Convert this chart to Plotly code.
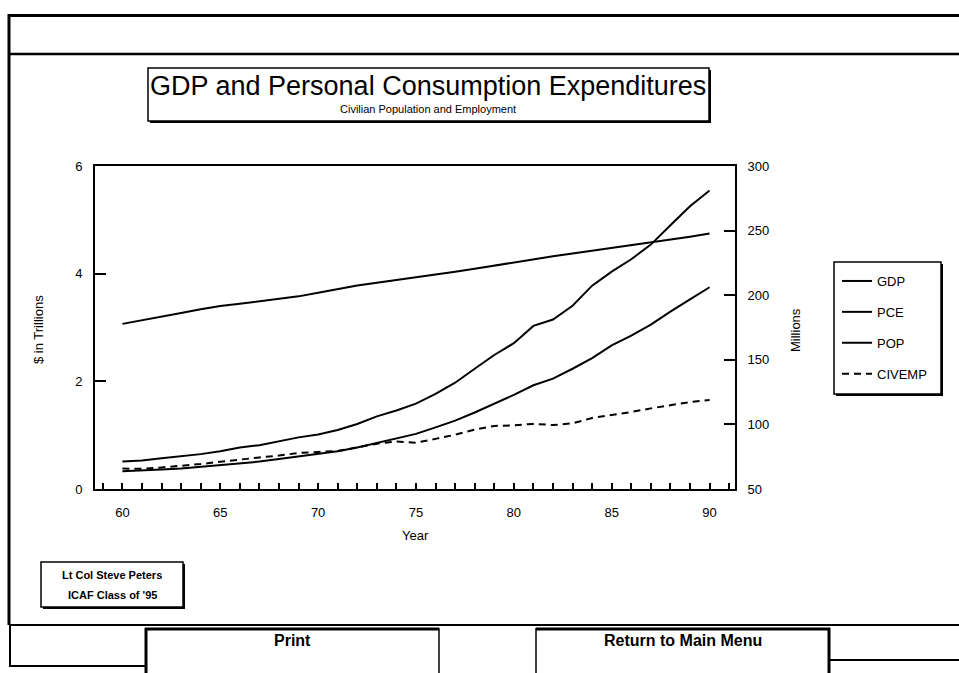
import plotly.graph_objects as go

# ---------------- data ----------------
years = list(range(60, 91))
gdp = [0.513, 0.531, 0.571, 0.603, 0.648, 0.702, 0.769, 0.814, 0.889, 0.959,
       1.011, 1.097, 1.207, 1.349, 1.459, 1.586, 1.768, 1.974, 2.233, 2.489,
       2.708, 3.030, 3.149, 3.405, 3.777, 4.038, 4.268, 4.540, 4.900, 5.251, 5.546]
pce = [0.331, 0.341, 0.363, 0.382, 0.411, 0.444, 0.481, 0.509, 0.558, 0.605,
       0.648, 0.702, 0.770, 0.852, 0.933, 1.024, 1.144, 1.271, 1.421, 1.583,
       1.748, 1.927, 2.051, 2.234, 2.430, 2.667, 2.850, 3.052, 3.296, 3.523, 3.748]
pop = [177.8, 180.8, 183.5, 186.2, 189.1, 191.6, 193.4, 195.3, 197.3, 199.1,
       201.9, 204.9, 207.5, 209.6, 211.6, 213.8, 215.9, 218.1, 220.5, 223.0,
       225.6, 227.9, 230.1, 232.2, 234.3, 236.5, 238.7, 240.8, 243.0, 245.3, 247.8]
civemp = [65.8, 65.7, 66.7, 67.8, 69.3, 71.1, 72.9, 74.4, 75.9, 77.9,
          78.7, 79.4, 82.2, 85.1, 86.8, 85.8, 88.8, 92.0, 96.0, 98.8,
          99.3, 100.4, 99.5, 100.8, 105.0, 107.2, 109.6, 112.4, 115.0, 117.3, 118.8]

x_ticks = [60, 65, 70, 75, 80, 85, 90]
y_left_ticks = [0, 2, 4, 6]
y_right_ticks = [50, 100, 150, 200, 250, 300]

title_text = "GDP and Personal Consumption Expenditures"
subtitle_text = "Civilian Population and Employment"
credit_lines = ["Lt Col Steve Peters", "ICAF Class of '95"]

# ---------------- layout geometry (pixels) ----------------
W, H = 959, 673
L, R, T, B = 95, 735, 166, 489
FONT = "Liberation Sans, Arial, sans-serif"


def px(x):
    return (x - L) / (R - L)


def py(y):
    return (B - y) / (B - T)


fig = go.Figure()
fig.add_trace(go.Scatter(x=years, y=gdp, name="GDP", mode="lines",
                         line=dict(color="black", width=2), legendgroup="a"))
fig.add_trace(go.Scatter(x=years, y=pce, name="PCE", mode="lines",
                         line=dict(color="black", width=2), legendgroup="b"))
fig.add_trace(go.Scatter(x=years, y=pop, name="POP", mode="lines", yaxis="y2",
                         line=dict(color="black", width=2), legendgroup="c"))
fig.add_trace(go.Scatter(x=years, y=civemp, name="CIVEMP", mode="lines", yaxis="y2",
                         line=dict(color="black", width=2, dash="7px,5px"),
                         legendgroup="d"))

shapes = []


def line(x0, y0, x1, y1, w=2):
    shapes.append(dict(type="line", xref="paper", yref="paper",
                       x0=px(x0), y0=py(y0), x1=px(x1), y1=py(y1),
                       line=dict(color="black", width=w)))


def box(x0, y0, x1, y1, w=1.5, shadow=3):
    shapes.append(dict(type="rect", xref="paper", yref="paper",
                       x0=px(x0 + shadow), y0=py(y0 + shadow),
                       x1=px(x1 + shadow), y1=py(y1 + shadow),
                       line=dict(width=0), fillcolor="black"))
    shapes.append(dict(type="rect", xref="paper", yref="paper",
                       x0=px(x0), y0=py(y0), x1=px(x1), y1=py(y1),
                       line=dict(color="black", width=w), fillcolor="white"))


# screen frame
line(8, 15.5, 959, 15.5, 3)
line(8, 54, 959, 54, 2.5)
line(9, 14, 9, 625, 3)
line(9, 625, 959, 625, 2)
line(10, 625, 10, 666, 2)
line(9, 666, 145, 666, 2)
line(830, 660, 959, 660, 2)
# Print button
line(145, 629, 439, 629, 3)
line(146, 628, 146, 680, 3)
line(439, 628, 439, 680, 1.5)
# Return button
line(536, 629, 830, 629, 3)
line(536, 628, 536, 680, 1.5)
line(829, 628, 829, 680, 3)

# title box and credit box
box(148, 68, 709, 121, 1.5, 2)
box(41, 562, 183, 607, 1.5, 2)
# legend frame with shadow
box(834, 262, 941, 394, 1.5, 2)

ann = []


def text(x, y, s, size, bold=False, angle=0):
    ann.append(dict(xref="paper", yref="paper", x=px(x), y=py(y), text=(f"<b>{s}</b>" if bold else s),
                    showarrow=False, xanchor="center", yanchor="middle", textangle=angle,
                    font=dict(family=FONT, size=size, color="black")))


text(428, 86, title_text, 27)
text(428, 109, subtitle_text, 11)
text(112, 575, credit_lines[0], 11, bold=True)
text(112, 595, credit_lines[1], 11, bold=True)
text(292, 640, "Print", 16, bold=True)
text(683, 640, "Return to Main Menu", 16, bold=True)
text(38, 330, "$ in Trillions", 13, angle=-90)
text(795, 330, "Millions", 13, angle=-90)
text(415, 535, "Year", 13)

axis_font = dict(family=FONT, size=13, color="black")

fig.update_layout(
    width=W, height=H, autosize=False,
    margin=dict(l=L, r=W - R, t=T, b=H - B, pad=0),
    paper_bgcolor="white", plot_bgcolor="white",
    font=dict(family=FONT, color="black"),
    showlegend=True,
    legend=dict(x=px(837), y=py(266), xanchor="left", yanchor="top",
                bgcolor="rgba(0,0,0,0)", borderwidth=0,
                font=dict(family=FONT, size=13, color="black"),
                tracegroupgap=11, itemwidth=30),
    xaxis=dict(range=[58.6, 91.3], tickmode="array", tickvals=x_ticks,
               ticktext=[str(v) for v in x_ticks],
               ticks="inside", ticklen=6, tickwidth=1.5, tickcolor="black",
               minor=dict(dtick=1, tick0=60, ticks="inside", ticklen=6, tickwidth=1.5,
                          tickcolor="black"),
               showline=True, linecolor="black", linewidth=2, mirror=True,
               showgrid=False, zeroline=False, tickfont=axis_font,
               ticklabelstandoff=10),
    yaxis=dict(range=[0, 6], tickmode="array", tickvals=y_left_ticks,
               ticks="inside", ticklen=11, tickwidth=1.5, tickcolor="black",
               showline=True, linecolor="black", linewidth=2,
               showgrid=False, zeroline=False, tickfont=axis_font,
               ticklabelstandoff=8),
    yaxis2=dict(range=[50, 300], tickmode="array", tickvals=y_right_ticks,
                overlaying="y", side="right",
                ticks="inside", ticklen=11, tickwidth=1.5, tickcolor="black",
                showline=True, linecolor="black", linewidth=2,
                showgrid=False, zeroline=False, tickfont=axis_font,
                ticklabelstandoff=8),
    shapes=shapes,
    annotations=ann,
)

fig.write_html("out.html", config={"displayModeBar": False},
               post_script="document.body.style.margin='0';document.body.style.overflow='hidden';")
